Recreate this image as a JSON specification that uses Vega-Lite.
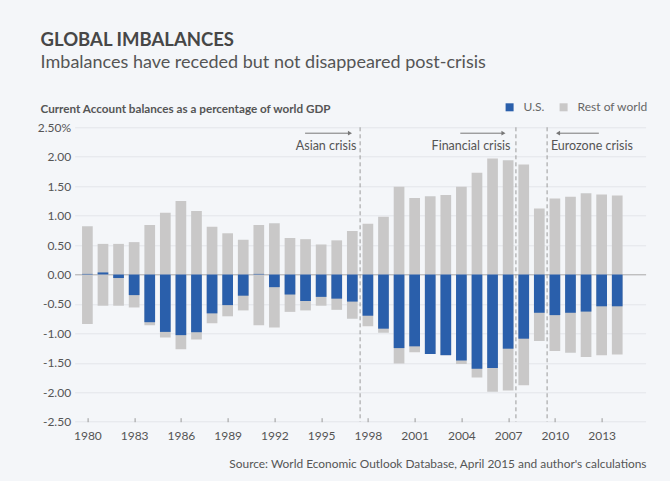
{
  "$schema": "https://vega.github.io/schema/vega-lite/v6.json",
  "width": 571,
  "height": 294.4,
  "autosize": {"type": "none"},
  "padding": {"left": 74.6, "top": 127.3, "right": 24.4, "bottom": 59.3},
  "background": "#f4f6f9",
  "config": {
    "font": "Lato",
    "view": {"stroke": null},
    "axis": {"labelFont": "Lato", "titleFont": "Lato", "labelOverlap": false},
    "axisY": {"labelOverlap": false, "tickCount": 11}
  },
  "title": {
    "text": "GLOBAL IMBALANCES",
    "subtitle": "Imbalances have receded but not disappeared post-crisis",
    "anchor": "start",
    "frame": "group",
    "dx": -34,
    "offset": 29,
    "fontSize": 18.5,
    "fontWeight": "bold",
    "color": "#474747",
    "subtitleFontSize": 18,
    "subtitleColor": "#555555",
    "subtitlePadding": 5
  },
  "datasets": {
    "balances": [
      {"year": 1980, "us": 0.01, "low": -0.84, "high": 0.82},
      {"year": 1981, "us": 0.035, "low": -0.53, "high": 0.52},
      {"year": 1982, "us": -0.06, "low": -0.53, "high": 0.52},
      {"year": 1983, "us": -0.35, "low": -0.56, "high": 0.55},
      {"year": 1984, "us": -0.81, "low": -0.86, "high": 0.84},
      {"year": 1985, "us": -0.975, "low": -1.07, "high": 1.05},
      {"year": 1986, "us": -1.03, "low": -1.27, "high": 1.25},
      {"year": 1987, "us": -0.98, "low": -1.105, "high": 1.08},
      {"year": 1988, "us": -0.66, "low": -0.83, "high": 0.81},
      {"year": 1989, "us": -0.52, "low": -0.71, "high": 0.7},
      {"year": 1990, "us": -0.36, "low": -0.61, "high": 0.59},
      {"year": 1991, "us": 0.01, "low": -0.86, "high": 0.84},
      {"year": 1992, "us": -0.215, "low": -0.9, "high": 0.87},
      {"year": 1993, "us": -0.34, "low": -0.635, "high": 0.62},
      {"year": 1994, "us": -0.45, "low": -0.61, "high": 0.6},
      {"year": 1995, "us": -0.38, "low": -0.53, "high": 0.51},
      {"year": 1996, "us": -0.41, "low": -0.6, "high": 0.58},
      {"year": 1997, "us": -0.46, "low": -0.75, "high": 0.74},
      {"year": 1998, "us": -0.7, "low": -0.88, "high": 0.86},
      {"year": 1999, "us": -0.92, "low": -0.99, "high": 0.98},
      {"year": 2000, "us": -1.25, "low": -1.51, "high": 1.49},
      {"year": 2001, "us": -1.22, "low": -1.32, "high": 1.3},
      {"year": 2002, "us": -1.35, "low": -1.35, "high": 1.33},
      {"year": 2003, "us": -1.37, "low": -1.37, "high": 1.35},
      {"year": 2004, "us": -1.46, "low": -1.52, "high": 1.49},
      {"year": 2005, "us": -1.6, "low": -1.75, "high": 1.73},
      {"year": 2006, "us": -1.59, "low": -1.99, "high": 1.97},
      {"year": 2007, "us": -1.26, "low": -1.97, "high": 1.94},
      {"year": 2008, "us": -1.09, "low": -1.88, "high": 1.87},
      {"year": 2009, "us": -0.65, "low": -1.13, "high": 1.12},
      {"year": 2010, "us": -0.69, "low": -1.3, "high": 1.29},
      {"year": 2011, "us": -0.65, "low": -1.33, "high": 1.32},
      {"year": 2012, "us": -0.63, "low": -1.4, "high": 1.38},
      {"year": 2013, "us": -0.54, "low": -1.37, "high": 1.36},
      {"year": 2014, "us": -0.54, "low": -1.36, "high": 1.34}
    ],
    "events": [
      {"event": "Asian crisis", "line": 1997.5, "label_end": 1997.26, "arrow_start": 1993.97, "arrow_end": 1996.85, "direction": "right"},
      {"event": "Financial crisis", "line": 2007.5, "label_end": 2007.15, "arrow_start": 2003.93, "arrow_end": 2006.7, "direction": "right"},
      {"event": "Eurozone crisis", "line": 2009.5, "label_end": 2015.0, "arrow_start": 2012.82, "arrow_end": 2010.2, "direction": "left"}
    ]
  },
  "layer": [
    {
      "data": {"name": "balances"},
      "mark": {"type": "bar", "width": 10.7},
      "encoding": {
        "x": {
          "field": "year",
          "type": "quantitative",
          "scale": {"domain": [1979.5, 2015.5], "nice": false, "zero": false},
          "axis": {
            "values": [1980, 1983, 1986, 1989, 1992, 1995, 1998, 2001, 2004, 2007, 2010, 2013],
            "format": "d",
            "grid": false,
            "domain": false,
            "tickSize": -4,
            "tickColor": "#999999",
            "labelPadding": 13,
            "labelFontSize": 12,
            "labelColor": "#555555",
            "labelOverlap": false,
            "title": "Source: World Economic Outlook Database, April 2015 and author's calculations",
            "titleX": 571.4,
            "titleY": 41.3,
            "titleAlign": "right",
            "titleAnchor": "end",
            "titleBaseline": "middle",
            "titleFontSize": 11.9,
            "titleFontWeight": "normal",
            "titleColor": "#555555"
          }
        },
        "y": {
          "field": "low",
          "type": "quantitative",
          "scale": {"domain": [-2.5, 2.5], "nice": false},
          "axis": {
            "values": [-2.5, -2, -1.5, -1, -0.5, 0, 0.5, 1, 1.5, 2, 2.5],
            "labelExpr": "datum.value == 2.5 ? '2.50%' : (datum.value < 0 ? '-' : '') + format(abs(datum.value), '.2f')",
            "labelOverlap": false,
            "domain": false,
            "ticks": false,
            "labelPadding": 4,
            "labelFontSize": 12,
            "labelColor": "#555555",
            "gridColor": {"condition": {"test": "datum.value === 0", "value": "#a8a8a8"}, "value": "#e3e6ea"},
            "title": "Current Account balances as a percentage of world GDP",
            "titleAngle": 0,
            "titleX": -34.6,
            "titleY": -19,
            "titleAlign": "left",
            "titleBaseline": "middle",
            "titleFontSize": 11.7,
            "titleFontWeight": "bold",
            "titleColor": "#555555"
          }
        },
        "y2": {"field": "high"},
        "color": {
          "datum": "Rest of world",
          "type": "nominal",
          "scale": {"domain": ["U.S.", "Rest of world"], "range": ["#2a5fab", "#c9c8c8"]},
          "legend": {
            "orient": "none",
            "legendX": 429,
            "legendY": -26,
            "direction": "horizontal",
            "title": null,
            "symbolType": "square",
            "symbolSize": 64,
            "symbolStrokeWidth": 0,
            "labelFontSize": 12,
            "labelColor": "#666666",
            "columnPadding": 13,
            "labelOffset": 8
          }
        }
      }
    },
    {
      "data": {"name": "balances"},
      "mark": {"type": "bar", "width": 10.7},
      "encoding": {
        "x": {"field": "year", "type": "quantitative"},
        "y": {"field": "us", "type": "quantitative"},
        "y2": {"datum": 0},
        "color": {"datum": "U.S.", "type": "nominal"}
      }
    },
    {
      "data": {"name": "events"},
      "mark": {"type": "rule", "strokeDash": [4, 3], "color": "#9a9a9a", "strokeWidth": 1},
      "encoding": {"x": {"field": "line", "type": "quantitative"}}
    },
    {
      "data": {"name": "events"},
      "mark": {"type": "rule", "color": "#777777", "strokeWidth": 1},
      "encoding": {
        "x": {"field": "arrow_start", "type": "quantitative"},
        "x2": {"field": "arrow_end"},
        "y": {"datum": 2.4}
      }
    },
    {
      "data": {"name": "events"},
      "mark": {"type": "point", "filled": true, "size": 22, "color": "#777777", "opacity": 1},
      "encoding": {
        "x": {"field": "arrow_end", "type": "quantitative"},
        "y": {"datum": 2.4},
        "shape": {"field": "direction", "type": "nominal", "scale": {"domain": ["right", "left"], "range": ["triangle-right", "triangle-left"]}, "legend": null}
      }
    },
    {
      "data": {"name": "events"},
      "mark": {"type": "text", "align": "right", "baseline": "middle", "fontSize": 12.5, "color": "#555555"},
      "encoding": {
        "x": {"field": "label_end", "type": "quantitative"},
        "y": {"datum": 2.19},
        "text": {"field": "event"}
      }
    }
  ]
}
